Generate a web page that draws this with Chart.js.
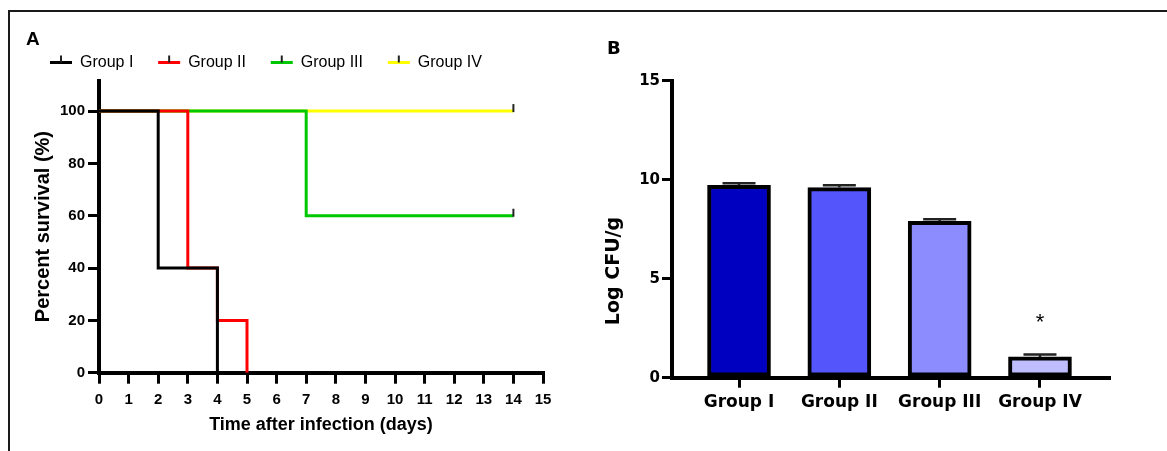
<!DOCTYPE html>
<html>
<head>
<meta charset="utf-8">
<script src="https://cdn.jsdelivr.net/npm/chart.js@4"></script>
<style>
html,body{margin:0;padding:0;background:#fff}
body{width:1167px;height:451px;position:relative;overflow:hidden}
#frame{position:absolute;left:8px;top:10px;width:1200px;height:500px;border-top:2px solid #1a1a1a;border-left:2px solid #1a1a1a}
#ca{position:absolute;left:0;top:0}
#cb{position:absolute;left:580px;top:0}
.lab{position:absolute;font-weight:bold;line-height:18px;color:#000}
#la{left:26px;top:30px;font-size:19px;font-family:"Liberation Sans",Arial,sans-serif}
#lb{left:607px;top:39px;font-size:18px;font-family:"DejaVu Sans",sans-serif}
#ytb{position:absolute;left:612px;top:271px;transform:translate(-50%,-50%) rotate(-90deg);font:bold 19px "DejaVu Sans",sans-serif;white-space:nowrap;color:#000}
</style>
</head>
<body>
<div id="frame"></div>
<canvas id="ca" width="580" height="451"></canvas>
<canvas id="cb" width="587" height="451"></canvas>
<div class="lab" id="la">A</div>
<div class="lab" id="lb">B</div>
<div id="ytb">Log CFU/g</div>
<script>
// panel A - survival
const groups=["Group I","Group II","Group III","Group IV"]

const g1Days=[0,2,4]
const g1Surv=[100,40,0]
const g2Days=[0,3,4,5]
const g2Surv=[100,40,20,0]
const g3Days=[0,7,14]
const g3Surv=[100,60,60]
const g4Days=[0,14]
const g4Surv=[100,100]

const g3Censor=[14]
const g4Censor=[14]

// panel B - bacterial load
const cfu=[9.72,9.6,7.9,1.05]
const cfuErr=[0.1,0.12,0.1,0.12]
const sig=["","","","*"]

const lineColors=["#000000","#ff0000","#00c800","#ffff00"]
const barColors=["#0000c0","#5555fc","#8c8cff","#bebeff"]

const sansA="'Liberation Sans', Arial, sans-serif"
const sansB="'DejaVu Sans', sans-serif"

function pts(d,s){
return d.map((x,i)=>({x:x,y:s[i]}))
}

const survSets=[
[g1Days,g1Surv,[]],
[g2Days,g2Surv,[]],
[g3Days,g3Surv,g3Censor],
[g4Days,g4Surv,g4Censor]
]

const censorTicks={
id:"censorTicks",
afterDatasetsDraw(chart){
const {ctx,scales:{x,y}}=chart
ctx.save()
ctx.strokeStyle="#222"
ctx.lineWidth=2
survSets.forEach(([d,s,c])=>{
c.forEach(day=>{
let v=s[0]
d.forEach((dd,i)=>{if(dd<=day) v=s[i]})
const px=x.getPixelForValue(day)
const py=y.getPixelForValue(v)
ctx.beginPath()
ctx.moveTo(px,py-7)
ctx.lineTo(px,py+1)
ctx.stroke()
})
})
// small tick in legend symbols
const lg=chart.legend
if(lg && lg.legendHitBoxes){
lg.legendHitBoxes.forEach(hb=>{
const cx=hb.left+11
const cy=hb.top+hb.height/2
ctx.beginPath()
ctx.moveTo(cx,cy-7)
ctx.lineTo(cx,cy)
ctx.stroke()
})
}
ctx.restore()
}
}

new Chart(document.getElementById("ca"),{
type:"line",
data:{
datasets:survSets.map(([d,s],i)=>({
label:groups[i],
data:pts(d,s),
borderColor:lineColors[i],
backgroundColor:lineColors[i],
borderWidth:3,
stepped:true,
pointRadius:0,
fill:false
}))
},
options:{
responsive:false,
animation:false,
layout:{padding:{left:25.2,top:29.7,right:37,bottom:15}},
plugins:{
tooltip:{enabled:false},
legend:{
position:"top",
align:"start",
labels:{
font:{family:sansA,size:16},
color:"#000",
boxWidth:22,
boxHeight:3,
padding:24.8,
generateLabels:chart=>Chart.defaults.plugins.legend.labels.generateLabels(chart).map(l=>Object.assign(l,{lineWidth:0}))
}
}
},
scales:{
x:{
type:"linear",
min:0,
max:15,
ticks:{stepSize:1,autoSkip:false,maxRotation:0,padding:7,color:"#000",font:{family:sansA,size:15,weight:"bold"}},
grid:{drawOnChartArea:false,tickLength:11,color:"#000",lineWidth:3},
border:{color:"#000",width:4},
title:{display:true,text:"Time after infection (days)",color:"#000",font:{family:sansA,size:18,weight:"bold"},padding:{top:0,bottom:0}},
afterFit:s=>{s.height=63.3}
},
y:{
min:0,
max:111.7,
ticks:{stepSize:20,includeBounds:false,padding:3,color:"#000",font:{family:sansA,size:15,weight:"bold"}},
grid:{drawOnChartArea:false,tickLength:11,color:"#000",lineWidth:3},
border:{color:"#000",width:4},
title:{display:true,text:"Percent survival (%)",color:"#000",font:{family:sansA,size:20,weight:"bold"},padding:{top:6.3,bottom:0}},
afterFit:s=>{s.width=73.8}
}
}
},
plugins:[censorTicks]
})

const errorBars={
id:"errorBars",
afterDatasetsDraw(chart){
const {ctx,scales:{x,y}}=chart
ctx.save()
ctx.strokeStyle="#222"
ctx.lineWidth=2.5
cfu.forEach((v,i)=>{
const px=x.getPixelForValue(i)
const base=y.getPixelForValue(v)
const top=y.getPixelForValue(v+cfuErr[i])
ctx.beginPath()
ctx.moveTo(px,base)
ctx.lineTo(px,top)
ctx.moveTo(px-16.5,top)
ctx.lineTo(px+16.5,top)
ctx.stroke()
if(sig[i]){
ctx.fillStyle="#000"
ctx.font="22px "+sansA
ctx.textAlign="center"
ctx.textBaseline="alphabetic"
ctx.fillText(sig[i],px,top-26)
}
})
ctx.restore()
}
}

new Chart(document.getElementById("cb"),{
type:"bar",
data:{
datasets:[{
label:"Log CFU/g",
data:cfu.map((v,i)=>({x:i,y:v})),
backgroundColor:barColors,
borderColor:"#000",
borderWidth:4,
borderSkipped:false,
barThickness:63
}]
},
options:{
responsive:false,
animation:false,
layout:{padding:{left:0,top:80.7,right:58,bottom:0}},
plugins:{legend:{display:false},tooltip:{enabled:false}},
scales:{
x:{
type:"linear",
min:-0.668,
max:3.688,
offset:false,
ticks:{stepSize:1,includeBounds:false,autoSkip:false,maxRotation:0,padding:5,color:"#000",
font:{family:sansB,size:17,weight:"bold"},
callback:v=>groups[v]??""},
grid:{offset:false,drawOnChartArea:false,tickLength:10,color:"#000",lineWidth:3},
border:{color:"#000",width:4},
afterFit:s=>{s.height=73.3}
},
y:{
min:0,
max:15,
ticks:{stepSize:5,padding:2,color:"#000",font:{family:sansB,size:15,weight:"bold"}},
grid:{drawOnChartArea:false,tickLength:10,color:"#000",lineWidth:3},
border:{color:"#000",width:4},
afterFit:s=>{s.width=92}
}
}
},
plugins:[errorBars]
})
</script>
</body>
</html>
